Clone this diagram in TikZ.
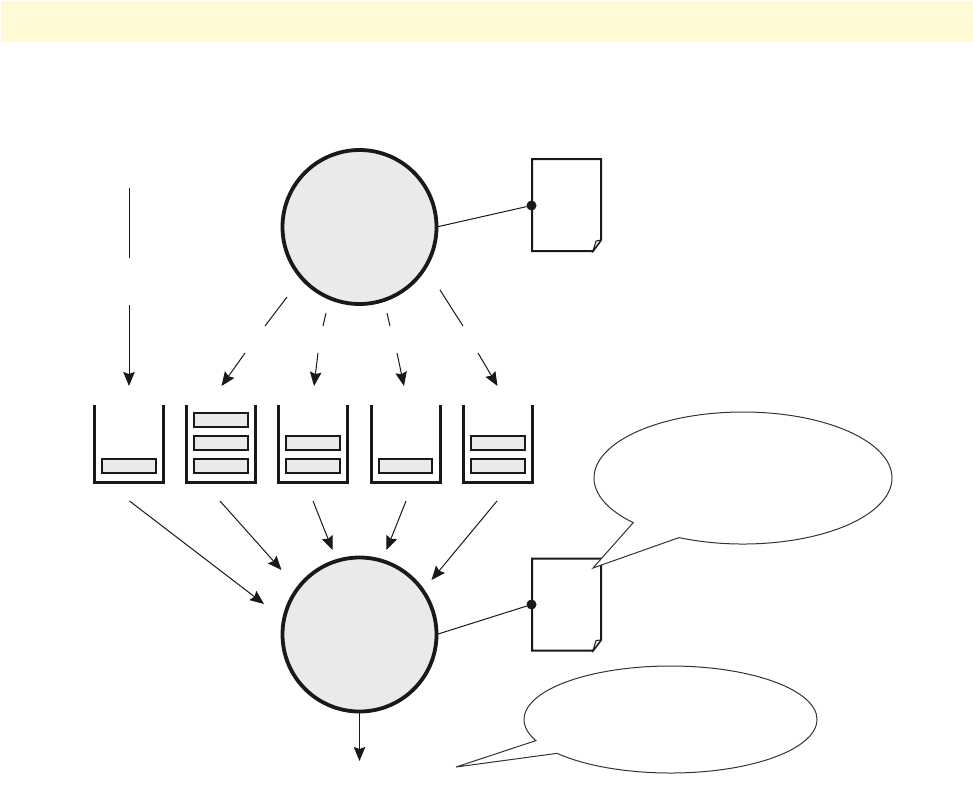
\documentclass[tikz,border=0pt]{standalone}
\usetikzlibrary{arrows.meta,shapes.callouts}
\definecolor{headbar}{HTML}{FFF9D6}
\definecolor{fillgray}{HTML}{E9EAEC}
\tikzset{
  bigcircle/.style={circle,draw=black!90,fill=fillgray,line width=3.8pt,minimum size=154pt,inner sep=0pt,outer sep=0pt},
  slotbox/.style={rectangle,draw=black!90,fill=fillgray,line width=2.2pt,minimum width=53.5pt,minimum height=14pt,inner sep=0pt},
  blackdot/.style={circle,fill=black!90,minimum size=10pt,inner sep=0pt,outer sep=0pt},
  wire/.style={draw=black!90,line width=1pt},
  flow/.style={wire,-{Stealth[length=14pt,width=11.5pt,inset=2pt]}},
  bucketline/.style={draw=black!90,line width=3pt,line cap=butt,line join=miter},
  pageline/.style={draw=black!90,line width=2pt,line join=miter},
  bubble/.style={ellipse callout,draw=black!80,fill=white,line width=1pt,inner sep=0pt,outer sep=0pt}
}
\begin{document}
\begin{tikzpicture}[x=1pt,y=-1pt]
    \useasboundingbox (0, 0) rectangle (973, 788);
    \fill[headbar] (1, 1) rectangle (973, 41.5);

    \node[bigcircle] (shaper) at (359.5, 227){};
    \node[bigcircle] (sched) at (359.5, 634.5){};

    % pages
    \draw[pageline] (593, 251) -- (532, 251) -- (532, 159) -- (601, 159) -- (601, 240) -- cycle;
        \filldraw[pageline,line width=1pt,fill=fillgray] (593, 251) -- (596, 241) -- (601, 240) -- cycle;
        \node[blackdot] (shaperdot) at (531.5, 205.5){};
        \draw[wire] (shaper.east) to (shaperdot);
    \draw[pageline] (593, 650.7) -- (532, 650.7) -- (532, 558.5) -- (601, 558.5) -- (601, 640) -- cycle;
        \filldraw[pageline,line width=1pt,fill=fillgray] (593, 650.7) -- (596, 640.5) -- (601, 640) -- cycle;
        \node[blackdot] (scheddot) at (531.5, 604.5){};
        \draw[wire] (sched.east) to (scheddot);

    % buckets
    \draw[bucketline] (94, 405) -- (94, 482) -- (163, 482) -- (163, 405);
        \node[slotbox] (slota) at (129, 466){};
    \draw[bucketline] (186.5, 405) -- (186.5, 482) -- (255.5, 482) -- (255.5, 405);
        \node[slotbox] (slotba) at (221, 466){};
        \node[slotbox] (slotbb) at (221, 443){};
        \node[slotbox] (slotbc) at (221, 420){};
    \draw[bucketline] (278.5, 405) -- (278.5, 482) -- (347.5, 482) -- (347.5, 405);
        \node[slotbox] (slotca) at (313, 466){};
        \node[slotbox] (slotcb) at (313, 443){};
    \draw[bucketline] (371, 405) -- (371, 482) -- (440, 482) -- (440, 405);
        \node[slotbox] (slotd) at (405.5, 466){};
    \draw[bucketline] (463.5, 405) -- (463.5, 482) -- (532.5, 482) -- (532.5, 405);
        \node[slotbox] (slotea) at (498, 466){};
        \node[slotbox] (sloteb) at (498, 443){};

    % arrows into the buckets
    \coordinate (ina) at (129, 188);
    \coordinate (inb) at (129, 258);
    \coordinate (inc) at (129, 305);
    \coordinate (ind) at (129, 386);
        \draw[wire] (ina) to (inb);
        \draw[flow] (inc) to (ind);
    \coordinate (aa) at (287, 297);
    \coordinate (ab) at (265, 326);
    \coordinate (ac) at (245, 353);
    \coordinate (ad) at (221.5, 386);
        \draw[wire] (aa) to (ab);
        \draw[flow] (ac) to (ad);
    \coordinate (ba) at (326, 313);
    \coordinate (bb) at (323, 326);
    \coordinate (bc) at (318, 353);
    \coordinate (bd) at (314, 386);
        \draw[wire] (ba) to (bb);
        \draw[flow] (bc) to (bd);
    \coordinate (ca) at (387, 313);
    \coordinate (cb) at (390, 326);
    \coordinate (cc) at (397, 353);
    \coordinate (cd) at (404, 386);
        \draw[wire] (ca) to (cb);
        \draw[flow] (cc) to (cd);
    \coordinate (da) at (440, 290);
    \coordinate (db) at (463, 326);
    \coordinate (dc) at (478, 353);
    \coordinate (dd) at (497.5, 386);
        \draw[wire] (da) to (db);
        \draw[flow] (dc) to (dd);

    % arrows out of the buckets
    \coordinate (outa) at (129.5, 501);
    \coordinate (enda) at (264, 604);
        \draw[flow] (outa) to (enda);
    \coordinate (outb) at (220, 501);
    \coordinate (endb) at (281.5, 570);
        \draw[flow] (outb) to (endb);
    \coordinate (outc) at (313, 501);
    \coordinate (endc) at (332.5, 550);
        \draw[flow] (outc) to (endc);
    \coordinate (outd) at (406, 501);
    \coordinate (endd) at (386.5, 550);
        \draw[flow] (outd) to (endd);
    \coordinate (oute) at (497, 501);
    \coordinate (ende) at (431.5, 580);
        \draw[flow] (oute) to (ende);
    \coordinate (leave) at (359.5, 761);
        \draw[flow] (sched.south) to (leave);

    % bubbles
    \node[bubble,minimum width=298pt,minimum height=132pt,callout pointer arc=22,callout absolute pointer={(593, 568)}] (notea) at (743, 478){};
    \node[bubble,minimum width=293pt,minimum height=107pt,callout pointer arc=16,callout absolute pointer={(456, 767)}] (noteb) at (670.5, 719.5){};
\end{tikzpicture}
\end{document}
